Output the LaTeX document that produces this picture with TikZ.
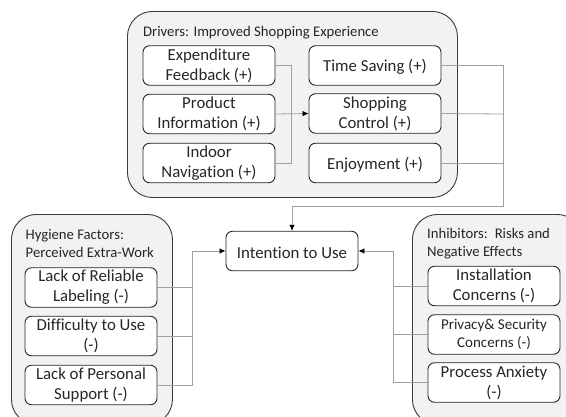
\documentclass[tikz,border=0pt]{standalone}
\usepackage{fontspec}
\setmainfont[Ligatures=NoCommon]{Carlito}
\usetikzlibrary{arrows.meta}
\definecolor{grp}{HTML}{F2F2F2}
\definecolor{edgeline}{HTML}{3A3A3A}
\definecolor{conn}{HTML}{A0A0A0}
\definecolor{ink}{HTML}{262626}
\tikzset{
  group/.style={draw=edgeline,fill=grp,line width=0.9pt,rounded corners=25pt,inner sep=0pt,anchor=north west},
  factor/.style={draw=black!85,fill=white,line width=0.9pt,rounded corners=6.5pt,minimum width=132pt,minimum height=39.5pt,inner sep=0pt,align=center,text=ink,font=\fontsize{16.8}{20}\selectfont,execute at begin node={\rule{0pt}{15pt}}},
  title/.style={anchor=west,inner sep=0pt,align=left,text=ink,font=\fontsize{14.7}{17.5}\selectfont},
  wire/.style={draw=conn,line width=0.8pt},
  head/.style={draw=conn,line width=0.8pt,-{Latex[length=6pt,width=5.5pt,black]}},
}
\begin{document}
\begin{tikzpicture}[x=1pt,y=-1pt]
\useasboundingbox (0,0) rectangle (566,416);
\clip (0,0) rectangle (566,416);
\fill[white] (0,0) rectangle (566,416);
% groups
\node[group,minimum width=330pt,minimum height=186pt] (gtop) at (127,11) {};
\node[group,minimum width=161pt,minimum height=210pt] (gleft) at (11,214) {};
\node[group,minimum width=170pt,minimum height=210pt] (gright) at (412,214) {};
% titles
\node[title] (t1) at (143,33) {Drivers: Improved Shopping Experience};
\node[title] (t2) at (25.5,243.5) {Hygiene Factors:\\Perceived Extra-Work};
\node[title] (t3) at (427,243.5) {Inhibitors:\, Risks and\\Negative Effects};
% factors
\node[factor] (exp) at (209,65.5) {Expenditure\\Feedback (+)};
\node[factor] (pro) at (209,114) {Product\\Information (+)};
\node[factor] (ind) at (209,163) {Indoor\\Navigation (+)};
\node[factor] (tim) at (375,65.5) {Time Saving (+)};
\node[factor] (sho) at (375,113.5) {Shopping\\Control (+)};
\node[factor] (enj) at (375,163) {Enjoyment (+)};
\node[factor] (lab) at (91,287.5) {Lack of Reliable\\Labeling (-)};
\node[factor] (dif) at (91,336) {Difficulty to Use\\(-)};
\node[factor] (sup) at (91,385) {Lack of Personal\\Support (-)};
\node[factor] (ins) at (494,286) {Installation\\Concerns (-)};
\node[factor,font=\fontsize{15}{18}\selectfont] (pri) at (494,334.5) {Privacy\& Security\\Concerns (-)};
\node[factor] (anx) at (494,382.5) {Process Anxiety\\(-)};
\node[factor] (int) at (292,251) {Intention to Use};
% junctions
\coordinate (ja) at (291,114);
\coordinate (jb) at (503,114);
\coordinate (jc) at (503,206);
\coordinate (jd) at (292,206);
\coordinate (je) at (192,251);
\coordinate (jf) at (393,251);
% connectors
\draw[wire] (exp.east) -| (ja);
\draw[wire] (ind.east) -| (ja);
\draw[head] (pro.east) -- (sho.west);
\draw[wire] (tim.east) -| (jb);
\draw[wire] (enj.east) -| (jb);
\draw[wire] (sho.east) -- (jb);
\draw[wire] (jb) -- (jc) -- (jd);
\draw[head] (jd) -- (int.north);
\draw[wire] (lab.east) -| (je);
\draw[wire] (dif.east) -| (je);
\draw[wire] (sup.east) -| (je);
\draw[head] (je) -- (int.west);
\draw[wire] (ins.west) -| (jf);
\draw[wire] (pri.west) -| (jf);
\draw[wire] (anx.west) -| (jf);
\draw[head] (jf) -- (int.east);
\end{tikzpicture}
\end{document}
